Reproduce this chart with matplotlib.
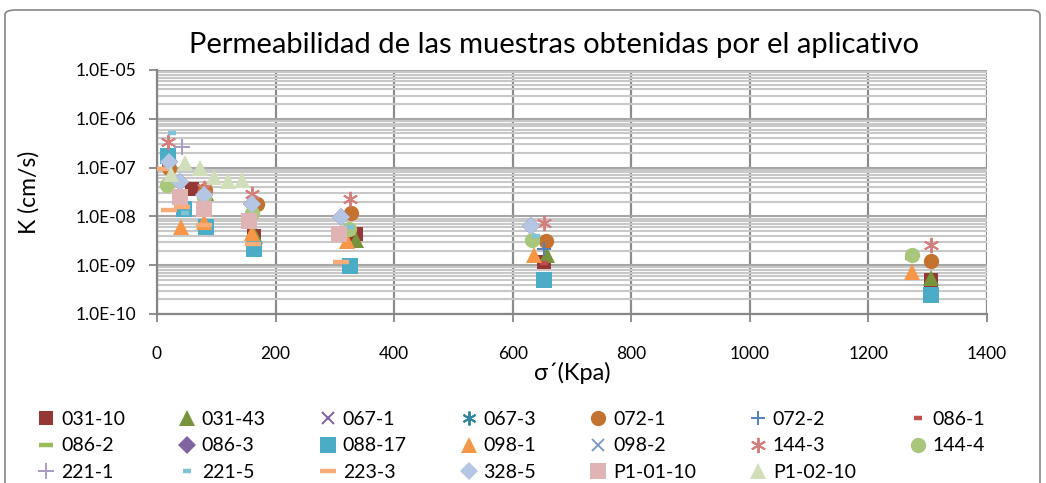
import matplotlib
matplotlib.use('Agg')
import matplotlib.pyplot as plt
import numpy as np
from matplotlib.ticker import FuncFormatter, LogLocator, MultipleLocator
from matplotlib.patches import FancyBboxPatch

plt.rcParams['font.family'] = ['Lato', 'DejaVu Sans']

# series data: sigma' (kPa) and K (cm/s)
names = ['031-10', '031-43', '067-1', '067-3', '072-1', '072-2', '086-1',
         '086-2', '086-3', '088-17', '098-1', '098-2', '144-3', '144-4',
         '221-1', '221-5', '223-3', '328-5', 'P1-01-10', 'P1-02-10']

s_031_10 = [20, 59, 163, 335, 653, 1305]
k_031_10 = [1.2e-7, 3.7e-8, 4.0e-9, 4.4e-9, 1.15e-9, 5.0e-10]
s_031_43 = [20, 82, 165, 335, 657, 1305]
k_031_43 = [2.0e-7, 3.0e-8, 4.0e-9, 3.3e-9, 1.6e-9, 5.4e-10]
s_067_1 = [39, 79, 156, 307, 653, 1305]
k_067_1 = [2.5e-8, 1.4e-8, 8.2e-9, 4.4e-9, 5.0e-10, 2.4e-10]
s_067_3 = [20, 164, 326, 653]
k_067_3 = [1.7e-7, 2.1e-9, 9.8e-10, 5.0e-10]
s_072_1 = [20, 81, 168, 328, 656, 1305]
k_072_1 = [1.0e-7, 3.4e-8, 1.8e-8, 1.2e-8, 3.2e-9, 1.2e-9]
s_072_2 = [39, 79, 156, 307, 652]
k_072_2 = [2.5e-8, 1.4e-8, 8.2e-9, 4.4e-9, 2.1e-9]
s_086_1 = [39, 79, 156, 307, 653]
k_086_1 = [2.4e-8, 1.3e-8, 8.0e-9, 4.2e-9, 1.1e-9]
s_086_2 = [39, 79, 156, 307, 1274]
k_086_2 = [2.6e-8, 1.5e-8, 8.6e-9, 4.6e-9, 1.4e-9]
s_086_3 = [20, 39, 79, 160, 311, 630]
k_086_3 = [1.3e-7, 5.0e-8, 2.7e-8, 1.8e-8, 9.5e-9, 6.5e-9]
s_088_17 = [18, 45, 82, 164, 326, 653, 1305]
k_088_17 = [1.7e-7, 1.4e-8, 6.0e-9, 2.1e-9, 9.8e-10, 5.0e-10, 2.4e-10]
s_098_1 = [41, 79, 160, 320, 636, 1274]
k_098_1 = [6.0e-9, 7.6e-9, 4.5e-9, 3.2e-9, 1.6e-9, 7.1e-10]
s_098_2 = [39, 79, 156, 307]
k_098_2 = [2.6e-8, 1.4e-8, 8.4e-9, 4.5e-9]
s_144_3 = [19, 80, 160, 326, 652, 1305]
k_144_3 = [3.3e-7, 3.9e-8, 2.9e-8, 2.3e-8, 7.2e-9, 2.6e-9]
s_144_4 = [17, 80, 160, 324, 632, 1274]
k_144_4 = [4.5e-8, 2.5e-8, 1.2e-8, 5.6e-9, 3.3e-9, 1.6e-9]
s_221_1 = [42]
k_221_1 = [2.6e-7]
s_221_5 = [25, 47, 326, 640]
k_221_5 = [5.2e-7, 1.2e-8, 6.0e-9, 4.0e-9]
s_223_3 = [5, 20, 42, 79, 162, 311]
k_223_3 = [9.5e-8, 1.35e-8, 1.55e-8, 6.7e-9, 2.7e-9, 1.15e-9]
s_328_5 = [20, 39, 79, 160, 311, 630]
k_328_5 = [1.3e-7, 5.0e-8, 2.7e-8, 1.8e-8, 9.5e-9, 6.5e-9]
s_p1_01 = [39, 79, 156, 307]
k_p1_01 = [2.5e-8, 1.4e-8, 8.2e-9, 4.4e-9]
s_p1_02 = [24, 48, 72, 96, 120, 143]
k_p1_02 = [7.5e-8, 1.26e-7, 9.8e-8, 6.4e-8, 5.2e-8, 5.6e-8]

sigmas = [s_031_10, s_031_43, s_067_1, s_067_3, s_072_1, s_072_2, s_086_1,
          s_086_2, s_086_3, s_088_17, s_098_1, s_098_2, s_144_3, s_144_4,
          s_221_1, s_221_5, s_223_3, s_328_5, s_p1_01, s_p1_02]
perms = [k_031_10, k_031_43, k_067_1, k_067_3, k_072_1, k_072_2, k_086_1,
         k_086_2, k_086_3, k_088_17, k_098_1, k_098_2, k_144_3, k_144_4,
         k_221_1, k_221_5, k_223_3, k_328_5, k_p1_01, k_p1_02]

colors = ['#953735', '#77933C', '#7E5FA0', '#31859C', '#C3732F', '#4F81BD',
          '#C0504D', '#9BBB59', '#8064A2', '#4BACC6', '#F79646', '#7C9BCB',
          '#D47E7C', '#A8C67C', '#A99BC6', '#7FC3D7', '#F9AC78', '#B4C6E3',
          '#E0B4B4', '#D0DEB9']

star = (6, 2, 0)
# marker, size, edge width
markers = [('s', 10.5, 0), ('^', 11, 0), ('x', 9, 1.4), (star, 10, 1.4),
           ('o', 11, 0), ('+', 10, 1.4), ('_', 6, 3.2), ('_', 10, 3.2),
           ('D', 9, 0), ('s', 11, 0), ('^', 11, 0), ('x', 9, 1.4),
           (star, 11, 1.4), ('o', 11, 0), ('+', 11, 1.4), ('_', 6, 3.2),
           ('_', 11, 3.2), ('D', 9, 0), ('s', 11.5, 0), ('^', 11.5, 0)]

fig = plt.figure(figsize=(10.46, 4.83), dpi=100)
ax = fig.add_axes([157 / 1046, 1 - 314 / 483, 830 / 1046, 244 / 483])

handles = []
for name, s, k, c, (m, ms, mew) in zip(names, sigmas, perms, colors, markers):
    h, = ax.plot(s, k, linestyle='none', marker=m, markersize=ms,
                 color=c, markeredgecolor=c, markeredgewidth=mew,
                 label=name, zorder=3)
    handles.append(h)

ax.set_yscale('log')
ax.set_ylim(1e-10, 1e-5)
ax.set_xlim(0, 1400)
ax.xaxis.set_major_locator(MultipleLocator(200))
ax.yaxis.set_major_locator(LogLocator(base=10, numticks=10))
ax.yaxis.set_minor_locator(LogLocator(base=10, subs=np.arange(2, 10), numticks=10))
ax.yaxis.set_major_formatter(FuncFormatter(lambda v, p: '%.1E' % v))
ax.yaxis.set_minor_formatter(FuncFormatter(lambda v, p: ''))

ax.grid(True, which='major', axis='y', color='#A6A6A6', linewidth=1.5)
ax.grid(True, which='minor', axis='y', color='#C8C8C8', linewidth=1.5)
ax.grid(True, which='major', axis='x', color='#8C8C8C', linewidth=1.6)
ax.set_axisbelow(True)

for side in ('top', 'right'):
    ax.spines[side].set_visible(False)
for side in ('left', 'bottom'):
    ax.spines[side].set_color('#868686')
    ax.spines[side].set_linewidth(1.6)
ax.tick_params(which='major', direction='out', length=6, width=1.3,
               color='#868686', labelsize=12.5, labelcolor='black')
ax.tick_params(which='minor', length=0)
ax.tick_params(axis='x', pad=17)
ax.tick_params(axis='y', pad=9)

ax.set_ylabel('K (cm/s)', fontsize=16.5, labelpad=26)
ax.set_xlabel('σ´(Kpa)', fontsize=17, labelpad=0)
fig.text(554 / 1046, 1 - 45 / 483, 'Permeabilidad de las muestras obtenidas por el aplicativo',
         ha='center', va='center', fontsize=21)

# legend fills row by row in the reference
ncol = 7
order = []
for c in range(ncol):
    for r in range(3):
        i = r * ncol + c
        if i < len(handles):
            order.append(i)
fig.legend([handles[i] for i in order], [names[i] for i in order],
           ncol=ncol, loc='upper left', bbox_to_anchor=(28 / 1046, 1 - 401 / 483),
           frameon=False, fontsize=14, handlelength=0.9, handletextpad=0.3,
           columnspacing=2.75, labelspacing=0.5, borderpad=0, numpoints=1)

fig.patches.append(FancyBboxPatch((5 / 1046, -0.05), 1035 / 1046, 1.05 - 10 / 483,
                                  boxstyle='round,pad=0,rounding_size=0.01',
                                  transform=fig.transFigure, fill=False,
                                  edgecolor='#868686', linewidth=1.2))

fig.savefig('out.png', dpi=100)
